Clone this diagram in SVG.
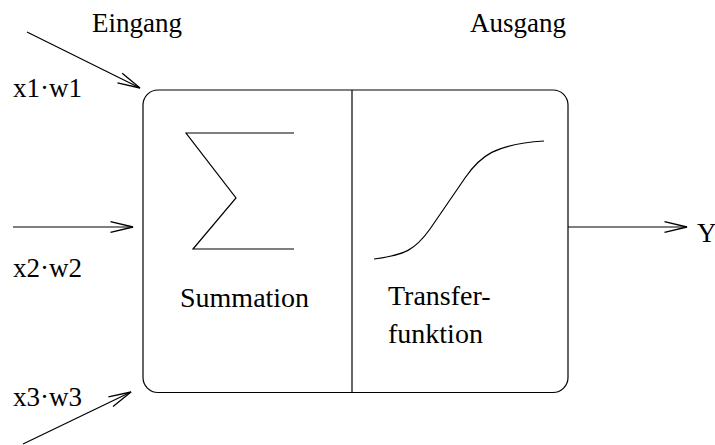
<svg xmlns="http://www.w3.org/2000/svg" width="715" height="445" viewBox="0 0 715 445">
<style>
.t{font-family:"Liberation Serif","Times New Roman",serif;font-size:27px;fill:#000}
.l{fill:none;stroke:#000;stroke-width:1.2}
</style>
<defs>
<marker id="ah" markerUnits="userSpaceOnUse" markerWidth="30" markerHeight="20" viewBox="-24 -8 28 16" refX="0" refY="0" orient="auto">
<path d="M-21,-5 L0,0 L-21,5" fill="none" stroke="#000" stroke-width="1.2"/>
</marker>
</defs>
<rect width="715" height="445" fill="#fff"/>
<text class="t" x="92" y="32">Eingang</text>
<text class="t" x="470" y="32">Ausgang</text>
<g id="neuron">
<rect class="l" x="143" y="90" width="425" height="302.5" rx="15" ry="15"/>
<line class="l" x1="352" y1="90" x2="352" y2="392.5"/>
</g>
<g id="summation">
<path class="l" d="M294,133 L186,133 L236,198 L193,249 L294,249"/>
<text class="t" x="180" y="307" style="font-size:28px">Summation</text>
</g>
<g id="transfer">
<path class="l" d="M374,259 C405,255 415,250 430,229 L465,178 C480,156 495,144 544,141"/>
<text class="t" x="388" y="305" style="font-size:28px">Transfer-</text>
<text class="t" x="388" y="343" style="font-size:28px">funktion</text>
</g>
<g id="inputs-labels">
<text class="t" x="13" y="97">x1·w1</text>
<text class="t" x="13" y="277">x2·w2</text>
<text class="t" x="13" y="406">x3·w3</text>
<text class="t" x="697" y="242">Y</text>
</g>
<g id="connectors">
<line class="l" x1="27" y1="32" x2="140" y2="88" marker-end="url(#ah)"/>
<line class="l" x1="13" y1="227" x2="133" y2="227" marker-end="url(#ah)"/>
<line class="l" x1="23" y1="444" x2="131" y2="392" marker-end="url(#ah)"/>
<line class="l" x1="568" y1="227" x2="687" y2="227" marker-end="url(#ah)"/>
</g>
</svg>
